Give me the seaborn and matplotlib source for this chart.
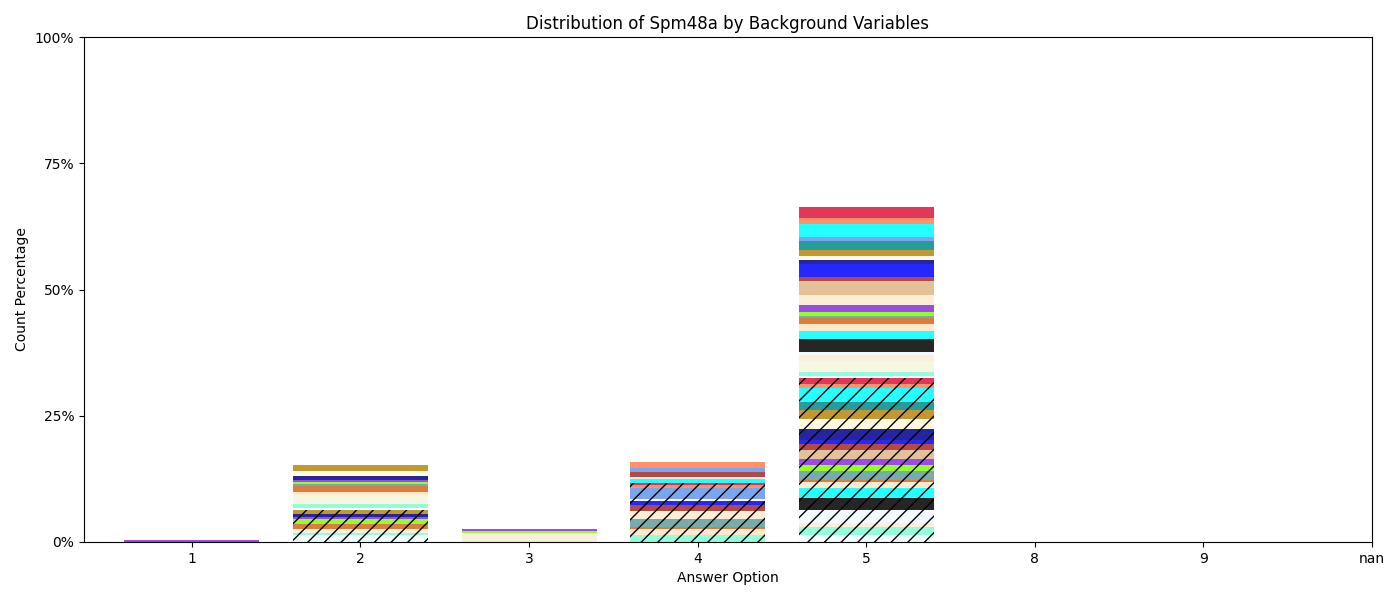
import numpy as np
import matplotlib
matplotlib.use("Agg")
import matplotlib.pyplot as plt
import seaborn as sns
from matplotlib.ticker import PercentFormatter


#  Data 

options = ["1", "2", "3", "4", "5", "8", "9", "nan"]

# background-variable categories, stacked bottom -> top
layers = [
    "azure", "aquamarine", "beige", "antiquewhite", "aliceblue", "black",
    "aqua", "bisque", "chocolate", "cadetblue", "chartreuse", "blueviolet",
    "blanchedalmond", "burlywood", "brown", "blue", "darkblue", "cornsilk",
    "darkgoldenrod", "darkcyan", "cornflowerblue", "cyan", "coral", "crimson",
]

# percentages per layer, hatched group (drawn first)
hatched_1 = [0] * 24
hatched_2 = [1.4, 0.4, 0, 0.8, 0, 0, 0, 0, 1.0, 0, 1.0, 0.4,
             0, 0, 0, 0, 0.6, 0, 0.8, 0, 0, 0, 0, 0]
hatched_3 = [0] * 24
hatched_4 = [0, 1.4, 0, 0, 0, 0, 0, 1.2, 0.4, 1.6, 0, 0,
             1.6, 0, 1.2, 0.8, 0, 0.4, 0, 0, 2.0, 0, 0.6, 0.4]
hatched_5 = [1.4, 1.6, 0, 0.8, 2.6, 2.4, 1.8, 1.2, 0.4, 1.8, 1.2, 1.2,
             0, 1.8, 1.2, 0.8, 2.2, 2.0, 1.8, 1.6, 0, 2.6, 0.8, 1.2]

# percentages per layer, plain group (stacked on top)
plain_1 = [0, 0, 0, 0, 0, 0, 0, 0, 0, 0, 0, 0.4,
           0, 0, 0, 0, 0, 0, 0, 0, 0, 0, 0, 0]
plain_2 = [0.4, 0.8, 1.8, 0, 0, 0, 0, 0.4, 1.2, 0.4, 0.4, 0.4,
           0, 0, 0, 0, 0.8, 1.0, 1.2, 0, 0, 0, 0, 0]
plain_3 = [0, 0, 0, 1.8, 0, 0, 0, 0, 0, 0, 0.4, 0.4,
           0, 0, 0, 0, 0, 0, 0, 0, 0, 0, 0, 0]
plain_4 = [0, 0, 0, 0, 0, 0, 0.8, 0, 0, 0, 0, 0,
           0.4, 0, 1.0, 0, 0, 0, 0, 0, 0.8, 0, 1.2, 0]
plain_5 = [0.4, 0.8, 2.2, 1.2, 0.6, 2.6, 1.6, 1.4, 1.2, 0.4, 0.8, 1.4,
           2.0, 2.6, 0.8, 2.6, 0.8, 0.8, 1.2, 1.8, 0.8, 2.6, 1.2, 2.2]

empty = [0] * 24
hatched = np.array([hatched_1, hatched_2, hatched_3, hatched_4, hatched_5,
                    empty, empty, empty], dtype=float)
plain = np.array([plain_1, plain_2, plain_3, plain_4, plain_5,
                  empty, empty, empty], dtype=float)


#  Plot 

fig, ax = plt.subplots(figsize=(14, 6), dpi=100)

bottom = np.zeros(len(options))
for table, hatch in [(hatched, "//"), (plain, None)]:
    for i, color in enumerate(layers):
        heights = table[:, i]
        sns.barplot(
            x=options, y=heights, order=options, color=color,
            saturation=1, alpha=0.85, width=0.8, errorbar=None,
            bottom=bottom.copy(), hatch=hatch, linewidth=0, ax=ax,
        )
        bottom += heights

ax.set_xlim(-0.64, 7)
ax.set_ylim(0, 100)
ax.set_yticks([0, 25, 50, 75, 100])
ax.yaxis.set_major_formatter(PercentFormatter(100, decimals=0))
ax.set_title("Distribution of Spm48a by Background Variables", fontsize=12)
ax.set_xlabel("Answer Option")
ax.set_ylabel("Count Percentage")

fig.subplots_adjust(left=0.06, right=0.98, top=0.9383, bottom=0.0967)
fig.savefig("out.png", dpi=100)
